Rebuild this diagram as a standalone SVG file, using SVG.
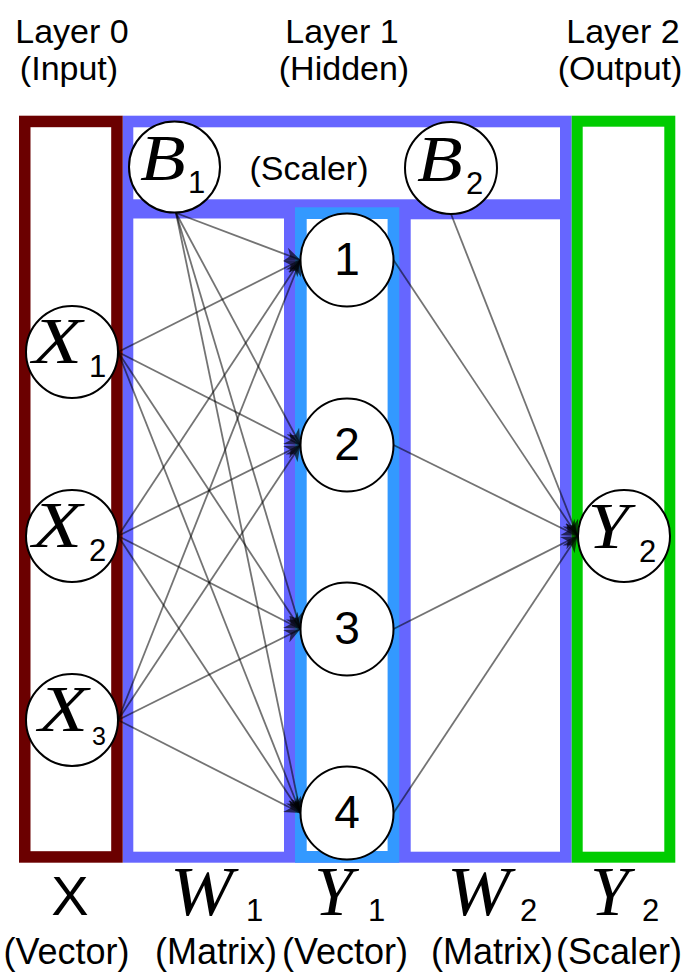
<svg xmlns="http://www.w3.org/2000/svg" width="685" height="974" viewBox="0 0 685 974">
<defs>
<style>
.lbl{font-family:"Liberation Sans",Arial,sans-serif;font-size:34px;fill:#000}
.math{font-family:"Liberation Serif","Times New Roman",serif;font-style:italic;font-size:65px;fill:#000}
.mathb{font-family:"Liberation Serif","Times New Roman",serif;font-style:italic;font-size:70px;fill:#000}
.sub{font-family:"Liberation Sans",Arial,sans-serif;font-size:31px;fill:#000}
.num{font-family:"Liberation Sans",Arial,sans-serif;font-size:46px;fill:#000;text-anchor:middle}
.node circle{fill:#fff;stroke:#000;stroke-width:2}
.edge{stroke:#000;stroke-opacity:0.55;stroke-width:1.8;fill:none;marker-end:url(#arr)}
.mid{text-anchor:middle}
</style>
<marker id="arr" viewBox="0 0 16 14" refX="16" refY="7" markerWidth="16" markerHeight="14" markerUnits="userSpaceOnUse" orient="auto">
<path d="M0,0 L16,7 L0,14 L5,7 z" fill="#000" fill-opacity="0.65"/>
</marker>
</defs>
<rect width="685" height="974" fill="#fff"/>
<g id="frames">
<rect x="122.7" y="115.7" width="449" height="747" fill="#6666ff"/>
<rect x="133.3" y="127.3" width="426.7" height="72" fill="#fff"/>
<rect x="133.3" y="218.5" width="150.7" height="633.2" fill="#fff"/>
<rect x="410.7" y="219.3" width="149.3" height="632.4" fill="#fff"/>
<rect x="300.85" y="213.15" width="92.6" height="643.7" fill="#fff" stroke="#3399ff" stroke-width="11.7"/>
<rect x="24.75" y="121.45" width="92.2" height="735.5" fill="none" stroke="#6b0000" stroke-width="11.5"/>
<rect x="577.2" y="121.2" width="92.6" height="736" fill="none" stroke="#00cc00" stroke-width="11"/>
</g>
<g id="connectors">
<path class="edge" d="M118,352 L300.5,260"/>
<path class="edge" d="M118,352 L300.5,445"/>
<path class="edge" d="M118,352 L300.5,629"/>
<path class="edge" d="M118,352 L300.5,813"/>
<path class="edge" d="M118,536 L300.5,260"/>
<path class="edge" d="M118,536 L300.5,445"/>
<path class="edge" d="M118,536 L300.5,629"/>
<path class="edge" d="M118,536 L300.5,813"/>
<path class="edge" d="M118,720 L300.5,260"/>
<path class="edge" d="M118,720 L300.5,445"/>
<path class="edge" d="M118,720 L300.5,629"/>
<path class="edge" d="M118,720 L300.5,813"/>
<path class="edge" d="M176,213 L300.5,260"/>
<path class="edge" d="M176,213 L300.5,445"/>
<path class="edge" d="M176,213 L300.5,629"/>
<path class="edge" d="M176,213 L300.5,813"/>
<path class="edge" d="M393.5,260 L577.5,536"/>
<path class="edge" d="M393.5,445 L577.5,536"/>
<path class="edge" d="M393.5,629 L577.5,536"/>
<path class="edge" d="M393.5,813 L577.5,536"/>
<path class="edge" d="M451,214 L577.5,536"/>
</g>
<g id="B1" class="node"><circle cx="174.5" cy="167" r="45.5"/><text class="math" transform="translate(140,180) scale(1.15,1)">B</text><text class="sub" x="188" y="193">1</text></g>
<g id="B2" class="node"><circle cx="451" cy="168" r="46"/><text class="math" transform="translate(417,181) scale(1.15,1)">B</text><text class="sub" x="466" y="194">2</text></g>
<g id="X1" class="node"><circle cx="72" cy="352" r="46"/><text class="math" transform="translate(32.5,363) scale(1.25,1)">X</text><text class="sub" x="89" y="377">1</text></g>
<g id="X2" class="node"><circle cx="72" cy="536" r="46"/><text class="math" transform="translate(32.5,547) scale(1.25,1)">X</text><text class="sub" x="89" y="561">2</text></g>
<g id="X3" class="node"><circle cx="72" cy="720" r="46"/><text class="math" transform="translate(38.5,731) scale(1.25,1)">X</text><text class="sub" x="92" y="745" style="font-size:25px">3</text></g>
<g id="H1" class="node"><circle cx="347" cy="260" r="46.5"/><text class="num" x="347" y="275">1</text></g>
<g id="H2" class="node"><circle cx="347" cy="445" r="46.5"/><text class="num" x="347" y="460">2</text></g>
<g id="H3" class="node"><circle cx="347" cy="629" r="46.5"/><text class="num" x="347" y="644">3</text></g>
<g id="H4" class="node"><circle cx="347" cy="813" r="46.5"/><text class="num" x="347" y="828">4</text></g>
<g id="Y2" class="node"><circle cx="624" cy="536" r="46"/><text class="math" transform="translate(587.5,548) scale(1.15,1)">Y</text><text class="sub" x="639" y="562">2</text></g>
<g id="labels">
<text class="lbl mid" x="72" y="43">Layer 0</text>
<text class="lbl mid" x="69" y="80">(Input)</text>
<text class="lbl mid" x="342" y="43">Layer 1</text>
<text class="lbl mid" x="344" y="80">(Hidden)</text>
<text class="lbl mid" x="623" y="43">Layer 2</text>
<text class="lbl mid" x="620" y="80">(Output)</text>
<text class="lbl mid" x="309" y="180">(Scaler)</text>
<text class="lbl mid" x="70" y="915" style="font-size:56px">X</text>
<text class="mathb" transform="translate(170,915) scale(1.08,1)">W</text><text class="sub" x="246" y="921">1</text>
<text class="mathb" x="314" y="915">Y</text><text class="sub" x="368" y="921">1</text>
<text class="mathb" transform="translate(447,915) scale(1.08,1)">W</text><text class="sub" x="520" y="921">2</text>
<text class="mathb" x="590" y="915">Y</text><text class="sub" x="642" y="921">2</text>
<text class="lbl mid" x="66.5" y="964" style="font-size:36px">(Vector)</text>
<text class="lbl mid" x="216" y="964" style="font-size:36px">(Matrix)</text>
<text class="lbl mid" x="345" y="964" style="font-size:36px">(Vector)</text>
<text class="lbl mid" x="492" y="964" style="font-size:36px">(Matrix)</text>
<text class="lbl mid" x="619" y="964" style="font-size:36px">(Scaler)</text>
</g>
</svg>
